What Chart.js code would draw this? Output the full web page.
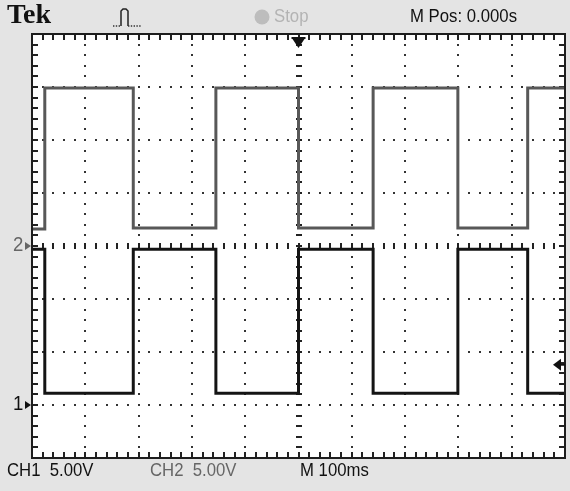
<!DOCTYPE html>
<html>
<head>
<meta charset="utf-8">
<script src="https://cdn.jsdelivr.net/npm/chart.js@4.4.1/dist/chart.umd.min.js"></script>
<style>
  html, body { margin:0; padding:0; }
  body { width:570px; height:491px; background:#e4e4e4; position:relative; overflow:hidden; }
  #c { position:absolute; left:0; top:0; }
  .t { position:absolute; white-space:pre; font-family:"Liberation Sans Narrow","Liberation Sans",Arial,sans-serif; font-size:18px; line-height:20px; color:#111; transform:scaleX(0.93); transform-origin:0 0; }
  .gray { color:#666; }
</style>
</head>
<body>
<canvas id="c" width="570" height="491"></canvas>
<div class="t" style="left:7px;top:-1px;font-family:'Liberation Serif','DejaVu Serif',serif;font-weight:bold;font-size:28px;line-height:30px;transform:none;">Tek</div>
<svg style="position:absolute;left:110px;top:5px" width="36" height="24">
  <polyline points="3,21 11,21" fill="none" stroke="#333" stroke-width="1.4" stroke-dasharray="1.4,1.4"/>
  <polyline points="11,21 11,6 13,4 16,4 18,6 18,21" fill="none" stroke="#222" stroke-width="1.5"/>
  <polyline points="18,21 31,21" fill="none" stroke="#333" stroke-width="1.4" stroke-dasharray="1.4,1.4"/>
</svg>
<svg style="position:absolute;left:254px;top:8px" width="18" height="18"><circle cx="8" cy="9" r="7.5" fill="#bdbdbd"/></svg>
<div class="t" style="left:274px;top:6px;color:#b3b3b3;">Stop</div>
<div class="t" style="left:410px;top:6px;">M Pos: 0.000s</div>
<div class="t" style="left:7px;top:460px;">CH1  5.00V</div>
<div class="t gray" style="left:150px;top:460px;">CH2  5.00V</div>
<div class="t" style="left:300px;top:460px;">M 100ms</div>
<div class="t gray" style="left:13px;top:234px;font-size:20px;">2</div>
<div class="t" style="left:13px;top:393px;font-size:20px;">1</div>
<script>
const timePerDivMs = 100;          // M 100ms
const voltsPerDiv = 5;             // CH1 5.00V, CH2 5.00V
const ch1OffsetDiv = -3;           // ground marker "1"
const ch2OffsetDiv = 0;            // ground marker "2"
const segmentStartMs = [-500, -476, -310, -155, 0, 140, 299, 430];
const segmentEndMs   = [-476, -310, -155, 0, 140, 299, 430, 500];
const ch1LevelsV = [14.7, 1.1, 14.7, 1.1, 14.7, 1.1, 14.7, 1.1];
const ch2LevelsV = [1.6, 14.9, 1.7, 14.9, 1.7, 14.9, 1.7, 14.9];
const triggerLevelV = 3.8;          // CH1 trigger level marker

function buildTrace(levels, offsetDiv) {
  const pts = [];
  for (let i = 0; i < levels.length; i++) {
    const y = offsetDiv + levels[i] / voltsPerDiv;
    pts.push({ x: segmentStartMs[i], y });
    pts.push({ x: segmentEndMs[i], y });
  }
  return pts;
}

const graticule = {
  id: 'graticule',
  beforeDatasetsDraw(chart) {
    const { ctx, chartArea: a, scales: { x, y } } = chart;
    ctx.save();
    ctx.fillStyle = '#ffffff';
    ctx.fillRect(a.left, a.top, a.right - a.left, a.bottom - a.top);
    ctx.fillStyle = '#333';
    const minorX = timePerDivMs / 5;
    for (let d = -4; d <= 4; d++) {
      if (d === 0) continue;
      const px = Math.round(x.getPixelForValue(d * timePerDivMs));
      for (let k = -20; k <= 20; k++) {
        const py = Math.round(y.getPixelForValue(k * 0.2));
        ctx.fillRect(px - 1, py - 1, 2, 2);
      }
    }
    for (let d = -3; d <= 3; d++) {
      if (d === 0) continue;
      const py = Math.round(y.getPixelForValue(d));
      for (let k = -25; k <= 25; k++) {
        const px = Math.round(x.getPixelForValue(k * minorX));
        ctx.fillRect(px - 1, py - 1, 2, 2);
      }
    }
    const cx = Math.round(x.getPixelForValue(0));
    const cy = Math.round(y.getPixelForValue(0));
    ctx.fillStyle = '#222';
    for (let k = -20; k <= 20; k++) {
      const py = Math.round(y.getPixelForValue(k * 0.2));
      ctx.fillRect(cx - 3, py - 1, 6, 2);
    }
    for (let k = -25; k <= 25; k++) {
      const px = Math.round(x.getPixelForValue(k * minorX));
      ctx.fillRect(px - 1, cy - 3, 2, 6);
    }
    for (let k = -25; k <= 25; k++) {
      const px = Math.round(x.getPixelForValue(k * minorX));
      ctx.fillRect(px - 1, a.top, 2, 6);
      ctx.fillRect(px - 1, a.bottom - 6, 2, 6);
    }
    for (let k = -20; k <= 20; k++) {
      const py = Math.round(y.getPixelForValue(k * 0.2));
      ctx.fillRect(a.left, py - 1, 6, 2);
      ctx.fillRect(a.right - 6, py - 1, 6, 2);
    }
    ctx.restore();
  },
  afterDatasetsDraw(chart) {
    const { ctx, chartArea: a, scales: { x, y } } = chart;
    ctx.save();
    ctx.strokeStyle = '#1e1e1e';
    ctx.lineWidth = 2;
    ctx.strokeRect(a.left, a.top, a.right - a.left, a.bottom - a.top);
    const cx = x.getPixelForValue(0);
    ctx.fillStyle = '#111';
    ctx.fillRect(cx - 7, a.top + 3, 14, 2);
    ctx.beginPath();
    ctx.moveTo(cx - 6, a.top + 5); ctx.lineTo(cx + 6, a.top + 5); ctx.lineTo(cx, a.top + 14); ctx.closePath(); ctx.fill();
    const ty = y.getPixelForValue(ch1OffsetDiv + triggerLevelV / voltsPerDiv);
    ctx.beginPath();
    ctx.moveTo(a.right - 12, ty); ctx.lineTo(a.right - 4, ty - 6); ctx.lineTo(a.right - 4, ty + 6); ctx.closePath(); ctx.fill();
    ctx.fillRect(a.right - 5, ty - 1, 5, 2);
    const g2 = y.getPixelForValue(ch2OffsetDiv);
    const g1 = y.getPixelForValue(ch1OffsetDiv);
    ctx.fillStyle = '#666';
    ctx.beginPath(); ctx.moveTo(a.left - 7, g2 - 4); ctx.lineTo(a.left - 1, g2); ctx.lineTo(a.left - 7, g2 + 4); ctx.closePath(); ctx.fill();
    ctx.fillStyle = '#111';
    ctx.beginPath(); ctx.moveTo(a.left - 7, g1 - 4); ctx.lineTo(a.left - 1, g1); ctx.lineTo(a.left - 7, g1 + 4); ctx.closePath(); ctx.fill();
    ctx.restore();
  }
};

new Chart(document.getElementById('c'), {
  type: 'line',
  data: {
    datasets: [
      { label: 'CH2', data: buildTrace(ch2LevelsV, ch2OffsetDiv), borderColor: '#585858', borderWidth: 3, pointRadius: 0, tension: 0, fill: false },
      { label: 'CH1', data: buildTrace(ch1LevelsV, ch1OffsetDiv), borderColor: '#141414', borderWidth: 3, pointRadius: 0, tension: 0, fill: false }
    ]
  },
  options: {
    responsive: false,
    animation: false,
    devicePixelRatio: 1,
    layout: { padding: { left: 32, top: 34, right: 5, bottom: 33 } },
    plugins: { legend: { display: false }, tooltip: { enabled: false } },
    scales: {
      x: { type: 'linear', min: -5 * timePerDivMs, max: 5 * timePerDivMs, display: false },
      y: { type: 'linear', min: -4, max: 4, display: false }
    }
  },
  plugins: [graticule]
});
</script>
</body>
</html>
